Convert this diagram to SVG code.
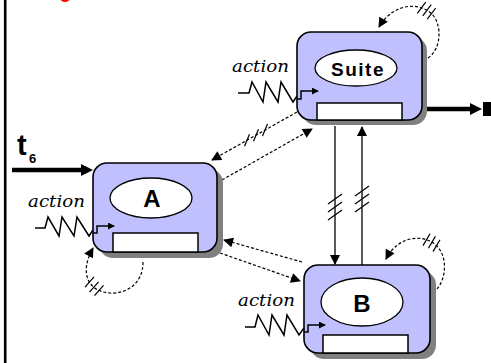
<svg xmlns="http://www.w3.org/2000/svg" width="491" height="363" viewBox="0 0 491 363">
<style>
.shadow{fill:#808080}
.box{fill:#c0c0ff;stroke:#000;stroke-width:1.6}
.oval{fill:#fff;stroke:#000;stroke-width:1.3}
.slot{fill:#fff;stroke:#000;stroke-width:1.5}
.lbl{font-family:"Liberation Sans",Arial,sans-serif;font-weight:bold;fill:#000;text-anchor:middle}
.act{font-family:"DejaVu Serif","Liberation Serif",serif;font-style:italic;font-size:17px;fill:#000}
.dash{fill:none;stroke:#000;stroke-width:1.2;stroke-dasharray:3 2}
.solid{fill:none;stroke:#000;stroke-width:1.3}
.tick{stroke:#000;stroke-width:1.2}
.zig{fill:none;stroke:#000;stroke-width:1.5}
.thick{fill:none;stroke:#000;stroke-width:4.5}
</style>
<defs>
<marker id="ah" viewBox="0 0 10 10" refX="9" refY="5" markerWidth="11" markerHeight="10" markerUnits="userSpaceOnUse" orient="auto"><path d="M0,0 L10,5 L0,10 z" fill="#000"/></marker>
<marker id="sm" viewBox="0 0 8 8" refX="7" refY="4" markerWidth="7" markerHeight="7" markerUnits="userSpaceOnUse" orient="auto"><path d="M0,0 L8,4 L0,8 z" fill="#000"/></marker>
<marker id="big" viewBox="0 0 12 12" refX="4" refY="6" markerWidth="12" markerHeight="13" markerUnits="userSpaceOnUse" orient="auto"><path d="M0,0 L12,6 L0,12 z" fill="#000"/></marker>
</defs>
<rect width="491" height="363" fill="#fff"/>
<line x1="5.2" y1="0" x2="5.2" y2="363" stroke="#000" stroke-width="2.6"/>
<ellipse cx="65" cy="-2" rx="5" ry="4" fill="#f00"/>

<g id="connectors">
<path class="dash" d="M297,112 L212,160" marker-end="url(#ah)"/>
<line class="tick" x1="262.5" y1="136" x2="267.5" y2="124"/>
<line class="tick" x1="253.5" y1="141.2" x2="258.5" y2="129.2"/>
<line class="tick" x1="244.5" y1="146.2" x2="249.5" y2="134.2"/>
<path class="dash" d="M222,180 L312,129" marker-end="url(#ah)"/>
<path class="dash" d="M302,262 L224,240" marker-end="url(#ah)"/>
<path class="dash" d="M220,253 L300,281" marker-end="url(#ah)"/>
<path class="solid" d="M335,126 L335,264" marker-end="url(#ah)"/>
<line class="tick" x1="328" y1="204" x2="342" y2="194"/>
<line class="tick" x1="328" y1="212" x2="342" y2="202"/>
<line class="tick" x1="328" y1="220" x2="342" y2="210"/>
<path class="solid" d="M362,265 L362,127" marker-end="url(#ah)"/>
<line class="tick" x1="355" y1="196" x2="369" y2="186"/>
<line class="tick" x1="355" y1="204" x2="369" y2="194"/>
<line class="tick" x1="355" y1="212" x2="369" y2="202"/>
<path class="dash" d="M428,58 C440,50 442,30 435,18 C425,2 395,0 379,27" marker-end="url(#ah)"/>
<line class="tick" x1="427.3" y1="19.2" x2="435.7" y2="8"/>
<line class="tick" x1="422.8" y1="15.8" x2="431.2" y2="4.6"/>
<line class="tick" x1="417.3" y1="13.4" x2="425.7" y2="2.2"/>
<path class="dash" d="M143,262 C143,285 125,294 110,293 C90,292 78,275 93,248" marker-end="url(#ah)"/>
<line class="tick" x1="94.5" y1="295.7" x2="103.5" y2="285.3"/>
<line class="tick" x1="89.5" y1="292.2" x2="98.5" y2="281.8"/>
<line class="tick" x1="85" y1="287.2" x2="94" y2="276.8"/>
<path class="dash" d="M433,292 C445,285 448,262 440,250 C430,234 400,232 386,259" marker-end="url(#ah)"/>
<line class="tick" x1="433" y1="251.6" x2="440" y2="239.8"/>
<line class="tick" x1="428.4" y1="248.2" x2="435.4" y2="236.4"/>
<line class="tick" x1="423" y1="245.6" x2="430" y2="233.8"/>
<path class="thick" d="M12,170 L85,170" marker-end="url(#big)"/>
<path class="thick" d="M427,109 L474,109" stroke-width="4" marker-end="url(#big)"/>
<rect x="483" y="102" width="8" height="14" fill="#000"/>
</g>

<text x="17" y="155" font-family="Liberation Sans,Arial,sans-serif" font-weight="bold" font-size="29">t</text>
<text x="29" y="163" font-family="Liberation Sans,Arial,sans-serif" font-weight="bold" font-size="13">6</text>

<g id="node-suite">
<rect class="shadow" x="302" y="37" width="125" height="88" rx="14"/>
<rect class="box" x="297" y="32" width="125" height="88" rx="14"/>
<ellipse class="oval" cx="356" cy="68" rx="41" ry="18"/>
<text class="lbl" x="358" y="76" font-size="19" letter-spacing="1.5">Suite</text>
<rect class="slot" x="317" y="103" width="85" height="17"/>
</g>

<g id="node-a">
<rect class="shadow" x="99" y="169" width="124" height="89" rx="14"/>
<rect class="box" x="93" y="163" width="124" height="89" rx="14"/>
<ellipse class="oval" cx="151" cy="198" rx="41" ry="20"/>
<text class="lbl" x="152" y="207" font-size="24">A</text>
<rect class="slot" x="113" y="233" width="85" height="19"/>
</g>

<g id="node-b">
<rect class="shadow" x="310" y="271" width="126" height="88" rx="14"/>
<rect class="box" x="304" y="265" width="126" height="88" rx="14"/>
<ellipse class="oval" cx="362" cy="302" rx="41" ry="24"/>
<text class="lbl" x="362" y="312" font-size="24">B</text>
<rect class="slot" x="323" y="335" width="85" height="18"/>
</g>

<g id="action-suite">
<text class="act" x="232" y="72" textLength="57" lengthAdjust="spacingAndGlyphs">action</text>
<path class="zig" d="M238,93 H249 L252,82 L263,102 L266,82 L278,102 L281,82 L293,102 L297,96"/>
<path class="zig" d="M297,99 H301 V91 H318" stroke-width="1.3" marker-end="url(#sm)"/>
</g>
<g id="action-a">
<text class="act" x="28" y="207" textLength="57" lengthAdjust="spacingAndGlyphs">action</text>
<path class="zig" d="M35,228 H45 L48,217 L59,236 L62,217 L74,236 L77,217 L89,236 L93,230"/>
<path class="zig" d="M93,233 H97 V226 H114" stroke-width="1.3" marker-end="url(#sm)"/>
</g>
<g id="action-b">
<text class="act" x="238" y="306" textLength="57" lengthAdjust="spacingAndGlyphs">action</text>
<path class="zig" d="M245,327 H255 L258,315 L269,335 L272,315 L284,335 L287,315 L299,335 L304,328"/>
<path class="zig" d="M304,332 H308 V325 H325" stroke-width="1.3" marker-end="url(#sm)"/>
</g>
</svg>
